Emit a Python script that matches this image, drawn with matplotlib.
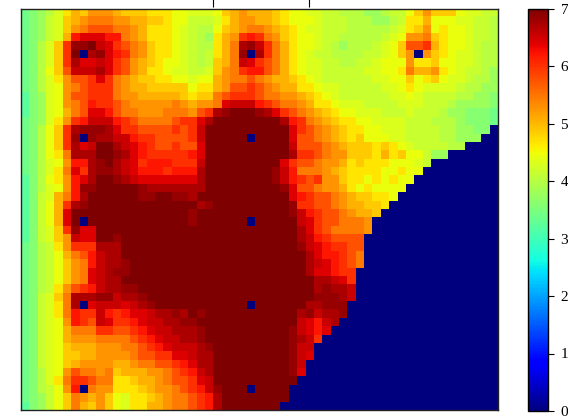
import matplotlib
matplotlib.use("Agg")
import matplotlib.pyplot as plt
import numpy as np

# one character per cell, looked up in LEVEL_VALUES; top row first
LEVEL_CODES = "0fghijklmnopqrstuvwxyz"
LEVEL_VALUES = [0.0, 3.2, 3.4, 3.6, 3.8, 4.0, 4.15, 4.3, 4.45, 4.65, 4.85, 5.05, 5.25, 5.45,
                5.75, 6.0, 6.2, 6.4, 6.55, 6.7, 6.85, 7.0]
GRID_ROWS = [
    "ghijlnpoqq qpooonnnmm lllmopqppp onmmllkkjj jiijkkmoqo oomllkk",
    "ghiklopqrr rqqppoonmm kkklnpqqpp onmmmlkkkj jjiijknnpm mmllkkj",
    "ghikloqrss srrqpnnnml kjjmopqrrq ponmllkkkj jjjjklnoqm nmmlkkj",
    "ghiklpuvvv uurqpnnnml kjinpqtutr qonmmlkkjj jjjklmqqro nmmlkkj",
    "ghjlotyyzw vtsrqonnml kjjnprxywt rpnmmlkjij jjklmosstp nmmlkjj",
    "ghjlotz0xy vutrqonnml kjknpry0xt rpnmlkkjjj jkklmoq0qo nmllkjj",
    "ghjlotxvvw vtsqponmml kjkoprwvts rpnmllkkjj kklmmmqnno mmllkjj",
    "ghjmoswwwx vtsqpnnmll kkloqrtuus rpnmllkkkk kllmmnrppq nmlkkji",
    "ghjlnqsstv trqpoonnmm lmmpqrrsrq pponmlkkkk kkllmmomno mllkjji",
    "ghjlmqrstt trqppooooo mnnpqsstsr qppnnmllkk kkkllmnmll llkjjii",
    "fhilmqsstt trqqpppppo noorstttsr rqqponmlkk kkkkllmlkk kkjjiih",
    "fhilmqrsut tsrqqqqqrq pqqrvwwwut srrqpnnmll lkkkklllkk kjiiiih",
    "fhilmprsvv usrrqqqrrr qstxyzzzyx vtsrqponmm lllkkklkkk jiihhhg",
    "ghilnqtuww wutsrrrrst tvxzzzzzzz zxutrqponn mmllllkkkj jjihhhg",
    "ghjmotxyyy xvttssssts twzzzzzzzz zzvtsrqpon nmmlllkkkk jjiihh0",
    "ghjmoty0yx xwwuttssss twzzzzz0zz zzvssrqpon ommmllkkkk jjiii00",
    "ghjmotxvwz zxwvutssts svzzzzzzzz zzwsssrqpo oononmlkkk kjj0000",
    "ghjmnrxxxz zyxvuttttt uvzzzzzzzz zzxttsrqqo oonpnommki i000000",
    "ghjlmquuxy zxwvtuuutt twzzzzzzzz zvtssrqqpn onnnmmmlk0 0000000",
    "ghjlnrvtxy yxwvuuutuu uxzzzzzzzz ywurrrqpon nnnmmnmm00 0000000",
    "fhjmnquvxz zyxwvvvvvv vxzzzzzzzz ywutstqqon nmnmnmm000 0000000",
    "fhjlmquyyz zzzzyxxxxx xxzzzzzzzz zyvssrqqpn mnmmmm0000 0000000",
    "fhklpruxzz zzzzyyzzyy xzzzzzzzzz zzvutssrqp oonnm00000 0000000",
    "fhkmptxyzz zzzzzzzzzz zxyzzzzzzz zzyttssrqp poon000000 0000000",
    "fhkmpvzzzz zzzzzzzzzz yzzzzzzzzz zzywutssrq ppo0000000 0000000",
    "fhkmpvz0zz zzzzzzzzzz yzzzzzz0zz zzzwvtssrr rq00000000 0000000",
    "fhkloty vvz zzzzzzzzzz zzzzzzzzzz zzzxvtsrrr rq00000000 0000000",
    "fhkloqwvvz zyzzzzzzzz zzzzzzzzzz zzzxwutsss s000000000 0000000",
    "ghjknqtttx xxzzzzzzzz zzzzzzzzzz zzzywvutts s000000000 0000000",
    "ghjkmprsuw xxzzzzzzzz zzzzzzzzzz zzzzxvuuts r000000000 0000000",
    "ghjkmoqruw xxyzzzzzzz zzzzzzzzzz zzzzxwvuts r000000000 0000000",
    "ghjkmoqrvw xyyzzzzzzz zzzzzzzzzz zzzzxvvutt 0000000000 0000000",
    "ghjkmoqrvw xxzzzzzzzz zzzzzzzzzz zzzzzxxwvt 0000000000 0000000",
    "ghjknqstuw xxyyzzzzzz zzzzzzzzzz zzzzzxyxxw 0000000000 0000000",
    "ghklorxxxy ywxxyzzzzz zzzzzzzzzz zzzzzyyyxw 0000000000 0000000",
    "ghklnrx0vw wwvwxyzzzz zzzzzzz0zz zzzzxxyyy0 0000000000 0000000",
    "ghklnruttw utuvvwxxyx zyzzzzzzzz zzzxywxxy0 0000000000 0000000",
    "ghklmqutsw vttuvwwxxy yzzzzzzzzz zzzwvuwx00 0000000000 0000000",
    "ghklmprrrt tsstuvwwxx xyzzzzzzzz zzywvuv000 0000000000 0000000",
    "ghklmpqqqr rrrstuvwwx xyzzzzzzzz zzyxwt0000 0000000000 0000000",
    "ghklmopppq qqrrstuvww wxyzzzzzzz zzyww00000 0000000000 0000000",
    "ghklmooppq qqqrssttvv wxxzzzzzzz zzywv00000 0000000000 0000000",
    "ghklmopqqq qppqrrsstu vxxzzzzzzz zzyw000000 0000000000 0000000",
    "ghjlmqsrrq ropppqqrst uwxzzzzzzz zzyv000000 0000000000 0000000",
    "ghjlnrttsr rnnoppqrss tvwzzzzzzz zzz0000000 0000000000 0000000",
    "ghjkmqu0rq qnnnopqqrs tuwyzzz0zz zz00000000 0000000000 0000000",
    "ghikmorqpq omlnnopqrr stuxzzzzzz zz00000000 0000000000 0000000",
    "fhikmorpoq omlnnppqrr stuxzzzzzz z000000000 0000000000 0000000",
]
CBAR_TICKS = [0, 1, 2, 3, 4, 5, 6, 7]
TOP_TICKS = [22.45, 33.95]

lookup = dict(zip(LEVEL_CODES, LEVEL_VALUES))
grid = np.array([[lookup[c] for c in row.replace(" ", "")] for row in GRID_ROWS])

plt.rcParams["font.family"] = ["Liberation Serif", "DejaVu Serif"]

fig = plt.figure(figsize=(5.68, 4.16), dpi=100)
ax = fig.add_axes([21 / 568, 5.7 / 416, 477 / 568, 401.3 / 416])
im = ax.imshow(grid, cmap="jet", vmin=0, vmax=7, aspect="auto", interpolation="nearest")
ax.set_xticks([])
ax.set_yticks([])
for s in ax.spines.values():
    s.set_linewidth(1.0)
    s.set_color("#222222")

# the stubs above the frame do not touch it
ax.vlines(TOP_TICKS, 1.005, 1.03, transform=ax.get_xaxis_transform(),
          color="black", lw=0.8, clip_on=False)

cax = fig.add_axes([528 / 568, 5 / 416, 20 / 568, 402.5 / 416])
cb = fig.colorbar(im, cax=cax, ticks=CBAR_TICKS)
cb.ax.tick_params(labelsize=11, length=4, width=0.8, pad=5)
cb.outline.set_linewidth(1.0)

fig.savefig("out.png", dpi=100)
